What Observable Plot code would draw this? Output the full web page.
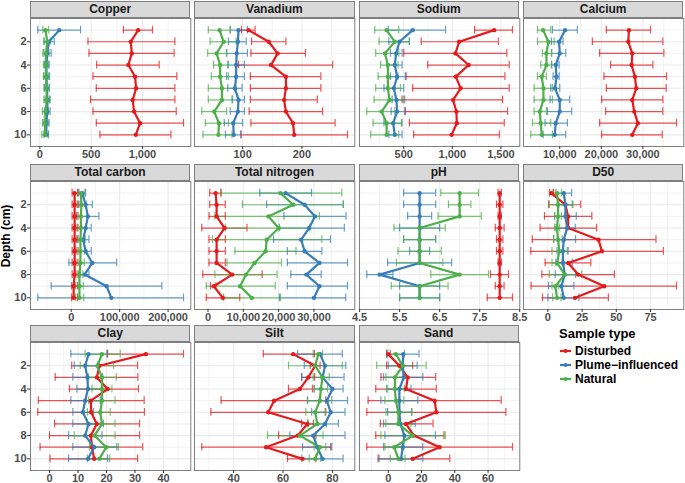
<!DOCTYPE html>
<html><head><meta charset="utf-8">
<script src="https://cdn.jsdelivr.net/npm/d3@7"></script>
<script src="https://cdn.jsdelivr.net/npm/@observablehq/plot@0.6"></script>
<style>
body{margin:0;background:#fff;font-family:"Liberation Sans",Arial,sans-serif}
#chart{position:relative;width:685px;height:483px;overflow:hidden;background:#fff}
.strip{position:absolute;background:#d9d9d9;border:1px solid #7f7f7f;box-sizing:border-box;font-weight:bold;font-size:12px;text-align:center;color:#1a1a1a;line-height:15px}
.panel{position:absolute}
.ytitle{position:absolute;left:-34px;top:229px;width:80px;text-align:center;transform:rotate(-90deg);font-weight:bold;font-size:12px;color:#000}
.legend{position:absolute;left:559px;top:326px;font-weight:bold;color:#000}
.legend .t{font-size:13px;margin-bottom:3px}
.legend .e{font-size:12px;height:14px;line-height:14px;display:flex;align-items:center;white-space:nowrap}
.legend svg{margin-right:3px}
</style></head><body><div id="chart"></div>
<script>
const depths = [1,2,3,4,5,6,7,8,9,10];
const sampleTypes = ["Disturbed","Plume\u2212influenced","Natural"];
const typeColors = ["#E41A1C","#377EB8","#4DAF4A"];
const variables = ["Copper","Vanadium","Sodium","Calcium","Total carbon","Total nitrogen","pH","D50","Clay","Silt","Sand"];

// Each array: rows = [Disturbed, Plume-influenced, Natural], columns = depth 1..10
const copperMean = [[958,886,896,863,928,938,905,918,977,935],[189,88,72,65,65,68,75,72,65,62],[55,72,60,58,60,65,68,55,52,50]];
const copperLow  = [[814,469,479,554,518,550,495,518,550,586],[-20,40,40,45,40,45,50,45,40,40],[30,40,30,35,35,40,40,25,25,20]];
const copperHigh = [[1098,1316,1309,1163,1335,1316,1316,1329,1400,1277],[397,140,110,90,95,92,100,100,90,85],[85,100,90,85,85,90,95,85,80,80]];

const vanadiumMean = [[110,144,159,148,173,173,170,173,185,187],[93,92,90,89,89,87,93,92,84,85],[61,68,56,62,62,65,65,52,60,59]];
const vanadiumLow  = [[98,115,114,93,113,113,113,111,114,97],[79,76,73,75,73,75,82,79,69,71],[42,45,41,51,47,42,42,31,37,33]];
const vanadiumHigh = [[121,173,206,252,232,232,226,235,256,277],[108,106,108,103,103,99,103,103,100,97],[79,89,73,76,76,86,83,73,76,82]];

const sodiumMean = [[1430,1070,1032,1168,1036,1086,1008,1042,1046,992],[592,456,422,408,432,398,425,432,391,408],[324,408,307,337,337,337,354,273,324,324]];
const sodiumLow  = [[1229,680,500,747,524,592,483,517,558,602],[341,347,364,330,364,297,381,371,297,347],[202,246,212,263,236,212,195,120,185,161]];
const sodiumHigh = [[1619,1473,1561,1585,1541,1585,1517,1568,1534,1483],[931,558,483,483,517,500,510,510,483,483],[449,558,449,442,442,466,500,408,476,449]];

const calciumMean = [[26640,26480,27440,27280,28080,28400,27440,27920,28800,27440],[11280,9840,10000,9040,9200,8880,10000,10000,9040,8800],[6000,7280,6800,6800,5680,6080,6080,5200,5440,5680]];
const calciumLow  = [[21200,17840,19600,22240,20640,21200,20080,21040,19600,20080],[8240,8000,8080,8080,8400,7840,7680,7040,6480,6000],[4640,4640,5840,5440,4640,3840,3840,3840,3440,3040]];
const calciumHigh = [[31840,34800,35040,32400,35680,35600,34800,34800,38080,34640],[14240,10800,11440,9840,9840,10000,12400,12880,11840,11440],[7840,8640,8000,8000,6800,8240,8240,6800,7840,8240]];

const carbonMean = [[7000,7000,7000,7000,7000,7000,7000,7000,5000,5000],[22800,29700,34500,29700,24800,29700,43500,27600,73100,82800],[20000,21000,20000,20000,19000,19000,19000,17000,17000,17000]];
const carbonLow  = [[2000,2000,2000,2000,2000,2000,2000,2000,1000,1000],[15900,15900,11000,9000,12400,7000,-4800,18000,-41400,-69000],[13000,12000,11000,12000,11000,11000,10000,10000,9000,9000]];
const carbonHigh = [[14000,14000,14000,14000,14000,14000,14000,14000,13000,13000],[29700,43500,57300,41400,36600,41400,93800,36600,187000,231800],[28000,31000,33000,30000,29000,28000,27000,24000,25000,26000]];

const nitrogenMean = [[2150,2440,2440,4690,2440,2440,2440,6840,1660,4200],[21980,27360,30290,28630,26380,27360,31560,27850,31560,30000],[20520,24130,17100,20030,16610,16320,13190,10750,9090,12410]];
const nitrogenLow  = [[490,490,290,-1760,290,290,290,-1470,680,-490],[14660,16610,21500,20220,18560,22470,22470,23450,22470,20220],[3610,9770,1950,4890,1270,7620,5370,1950,-490,4400]];
const nitrogenHigh = [[3710,4890,4890,11040,4890,4890,4890,15340,2250,8990],[29310,38300,39080,38600,34680,32240,39500,32050,39500,39000],[37900,38300,31560,28820,32240,24910,20810,19540,19050,20520]];

const phMean = [[8,8,8,8,8,8,8,8,8,8],[6,6,6,6,6,6,6,5,6,6],[7,7,7,6,6,6,6,7,6,6]];
const phLow  = [[7.96,7.92,7.96,7.89,7.92,7.92,7.96,7.77,7.89,7.69],[5.6,5.6,5.7,5.5,5.6,5.75,5.2,4.68,5.5,5.5],[6.53,6.72,6.46,5.36,5.6,5.46,5.42,6.28,5.29,5.5]];
const phHigh = [[8.04,8.08,8.04,8.11,8.08,8.08,8.04,8.22,8.11,8.32],[6.4,6.4,6.3,6.5,6.4,6.25,6.8,5.33,6.5,6.5],[7.47,7.28,7.54,6.64,6.4,6.54,6.58,7.72,6.71,6.5]];

const d50Mean = [[2.5,12.8,14.8,14.8,37.0,39.5,14.8,22.2,41.2,19.8],[11.6,12.8,12.8,14.1,11.6,10.9,11.1,12.3,9.9,11.6],[6.7,7.4,7.4,6.7,7.4,8.4,6.7,12.3,5.4,6.7]];
const d50Low  = [[1.2,0.5,-2.5,-5.7,-11.4,-12.5,-2.0,-4.4,-12.3,-4.0],[5.9,7.9,4.9,6.0,4.2,6.7,5.9,5.4,0.5,0],[3.7,1.0,4.9,4.9,4.2,3.0,3.0,1.0,3.0,3.5]];
const d50High = [[4.2,24.0,32.1,35.6,79.0,84.4,31.4,48.6,94.0,44.2],[17.3,17.8,20.7,20.0,20.2,14.8,17.8,20.2,19.0,22.7],[9.9,18.3,9.9,8.6,10.4,14.1,10.4,24.7,7.9,9.6]];

const clayMean = [[33.8,17.5,16.6,20.4,14.5,14.6,16.6,14.5,14.9,15.7],[13.7,12.5,13.3,13.5,12.5,11.7,13.7,12.5,15.7,13.5],[18.4,16.8,18.4,18.4,18.4,17.8,18.4,15.8,19.9,17.5]];
const clayLow  = [[20.4,7.8,2.0,7.0,-3.9,-4.1,1.8,0,-3.3,0.2],[7.5,8.7,8.2,9.6,7.5,8.2,8.2,6.7,8.2,6.7],[12.5,10.8,13.7,14.9,13.7,13.3,13.3,8.7,14.0,13.3]];
const clayHigh = [[47.0,30.9,31.0,31.2,33.2,33.3,31.6,31.6,32.7,30.9],[20.1,16.8,18.6,18.4,17.8,15.4,18.9,18.4,23.6,20.4],[24.8,22.5,23.4,21.9,23.0,21.3,23.0,23.0,24.2,21.1]];

const siltMean = [[64.1,73.0,70.2,66.8,56.4,54.0,69.9,65.9,53.1,67.9],[75.0,77.0,76.0,80.0,77.7,79.3,77.0,72.2,73.9,76.0],[74.3,73.0,76.0,75.3,74.9,73.0,73.9,66.8,74.9,73.0]];
const siltLow  = [[52.0,71.0,67.5,62.2,34.9,30.8,67.5,58.2,27.1,61.8],[65.9,68.6,67.6,72.6,69.9,71.6,69.9,62.8,67.9,67.6],[72.2,62.2,72.2,72.6,69.9,69.2,70.3,53.7,72.6,70.6]];
const siltHigh = [[72.7,75.0,72.8,71.9,77.3,77.3,72.3,73.3,79.3,73.3],[84.0,85.4,84.7,84.3,86.1,85.1,82.4,85.1,79.7,84.3],[76.0,84.0,78.7,78.0,79.7,77.0,77.6,76.2,77.3,75.3]];

const sandMean = [[0,6.7,11.7,10.7,27.9,28.9,10.7,15.4,30.9,14.7],[9,8.7,9.3,6.7,6.7,6.7,7.3,9.7,8.7,7.7],[4.6,8.7,4.0,4.0,4.6,6.1,6.1,14.7,3.6,6.1]];
const sandLow  = [[-1,-1,-4.4,-7.5,-12.1,-12.9,-4.8,-7.5,-12.9,-6.1],[-1,0,-2.8,-0.8,-4.4,-0.4,-2.8,-2,-2.8,-5.5],[-0.4,-6.9,-1.4,-0.8,-2,-1.4,-1.4,-4.4,-2,1.2]];
const sandHigh = [[1.2,14.7,28.5,28.9,67.9,70.7,26.9,33.5,74.7,37.0],[18.5,17.4,20.8,13.7,17.8,14.1,16.2,28.3,20.8,20.8],[9.7,22.8,9.3,9.7,9.3,14.1,13.7,34.3,9.3,10.1]];

// tick values per panel
const copperTicks = [0,500,1000];
const vanadiumTicks = [100,200];
const sodiumTicks = [500,1000,1500];
const calciumTicks = [10000,20000,30000];
const carbonTicks = [0,100000,200000];
const nitrogenTicks = [0,10000,20000,30000];
const phTicks = [4.5,5.5,6.5,7.5,8.5];
const d50Ticks = [0,25,50,75];
const clayTicks = [0,10,20,30,40];
const siltTicks = [40,60,80];
const sandTicks = [0,20,40,60];
const depthTicks = [2,4,6,8,10];

const panels = [
  [copperMean,copperLow,copperHigh,copperTicks],
  [vanadiumMean,vanadiumLow,vanadiumHigh,vanadiumTicks],
  [sodiumMean,sodiumLow,sodiumHigh,sodiumTicks],
  [calciumMean,calciumLow,calciumHigh,calciumTicks],
  [carbonMean,carbonLow,carbonHigh,carbonTicks],
  [nitrogenMean,nitrogenLow,nitrogenHigh,nitrogenTicks],
  [phMean,phLow,phHigh,phTicks],
  [d50Mean,d50Low,d50High,d50Ticks],
  [clayMean,clayLow,clayHigh,clayTicks],
  [siltMean,siltLow,siltHigh,siltTicks],
  [sandMean,sandLow,sandHigh,sandTicks]
];

const chart = document.getElementById("chart");
const colLeft = [30, 194.3, 358.6, 523];
const PW = 160.3, PH = 128, SH = 17;
const rowTop = [1, 163.5, 325];
const ML = 30, MR = 8, MB = 18;

function minorOf(ticks, domain) {
  const step = ticks.length > 1 ? ticks[1] - ticks[0] : 1;
  const out = [];
  for (let v = ticks[0] - step / 2; v <= domain[1]; v += step) if (v >= domain[0]) out.push(v);
  return out;
}

panels.forEach(([mean, low, high, ticks], i) => {
  const col = i % 4, row = Math.floor(i / 4);
  const data = [];
  sampleTypes.forEach((t, s) => depths.forEach((d, k) => data.push({type: t, depth: d, mean: mean[s][k], lo: low[s][k], hi: high[s][k]})));
  const lo = d3.min(data, d => d.lo), hi = d3.max(data, d => d.hi), pad = (hi - lo) * 0.05;
  const domain = [lo - pad, hi + pad];
  const fmt = Math.abs(ticks[ticks.length-1]) >= 1000 ? d3.format(",") : (ticks.some(v => v % 1) ? d3.format(".1f") : d3.format("d"));

  const strip = document.createElement("div");
  strip.className = "strip";
  strip.style.left = colLeft[col] + "px";
  strip.style.top = rowTop[row] + "px";
  strip.style.width = PW + "px";
  strip.style.height = SH + "px";
  strip.textContent = variables[i];
  chart.appendChild(strip);

  const svg = Plot.plot({
    width: PW + ML + MR, height: PH + MB,
    marginLeft: ML, marginRight: MR, marginTop: 0, marginBottom: MB,
    style: {background: "transparent", overflow: "visible", fontFamily: "Liberation Sans, Arial, sans-serif"},
    x: {domain, axis: null},
    y: {domain: [0, 11], reverse: true, axis: null},
    color: {domain: sampleTypes, range: typeColors},
    marks: [
      Plot.gridX(minorOf(ticks, domain), {stroke: "#ebebeb", strokeOpacity: 1, strokeWidth: 0.6}),
      Plot.gridY([1,3,5,7,9], {stroke: "#ebebeb", strokeOpacity: 1, strokeWidth: 0.6}),
      Plot.gridX(ticks.filter(v => v >= domain[0] - 1e-9 && v <= domain[1] + 1e-9), {stroke: "#ebebeb", strokeOpacity: 1, strokeWidth: 1.1}),
      Plot.gridY(depthTicks, {stroke: "#ebebeb", strokeOpacity: 1, strokeWidth: 1.1}),
      Plot.ruleY(data, {y: "depth", x1: "lo", x2: "hi", stroke: "type", strokeWidth: 1.2, strokeOpacity: 0.75}),
      Plot.ruleX(data, {x: "lo", y1: d => d.depth - 0.33, y2: d => d.depth + 0.33, stroke: "type", strokeWidth: 1.2, strokeOpacity: 0.75}),
      Plot.ruleX(data, {x: "hi", y1: d => d.depth - 0.33, y2: d => d.depth + 0.33, stroke: "type", strokeWidth: 1.2, strokeOpacity: 0.75}),
      Plot.line(data, {x: "mean", y: "depth", z: "type", stroke: "type", strokeWidth: 2.2}),
      Plot.dot(data, {x: "mean", y: "depth", fill: "type", r: 2.2}),
      Plot.frame({stroke: "#7f7f7f", strokeWidth: 1}),
      Plot.axisX(ticks, {tickFormat: fmt, tickSize: 3, tickPadding: 1, fontSize: 11, fontWeight: "bold", color: "#4d4d4d", stroke: "#333", label: null}),
      col === 0 ? Plot.axisY(depthTicks, {tickSize: 3, tickPadding: 1, fontSize: 11, fontWeight: "bold", color: "#4d4d4d", stroke: "#333", label: null}) : null
    ]
  });
  svg.classList.add("panel");
  svg.style.position = "absolute";
  svg.style.left = (colLeft[col] - ML) + "px";
  svg.style.top = (rowTop[row] + SH) + "px";
  chart.appendChild(svg);
});

const yt = document.createElement("div");
yt.className = "ytitle";
yt.textContent = "Depth (cm)";
chart.appendChild(yt);

const lg = document.createElement("div");
lg.className = "legend";
let html = '<div class="t">Sample type</div>';
sampleTypes.forEach((t, s) => {
  html += `<div class="e"><svg width="13" height="14"><line x1="1" x2="12" y1="7" y2="7" stroke="${typeColors[s]}" stroke-width="2.2"/><circle cx="6.5" cy="7" r="2" fill="${typeColors[s]}"/></svg><span>${t}</span></div>`;
});
lg.innerHTML = html;
chart.appendChild(lg);
</script></body></html>
